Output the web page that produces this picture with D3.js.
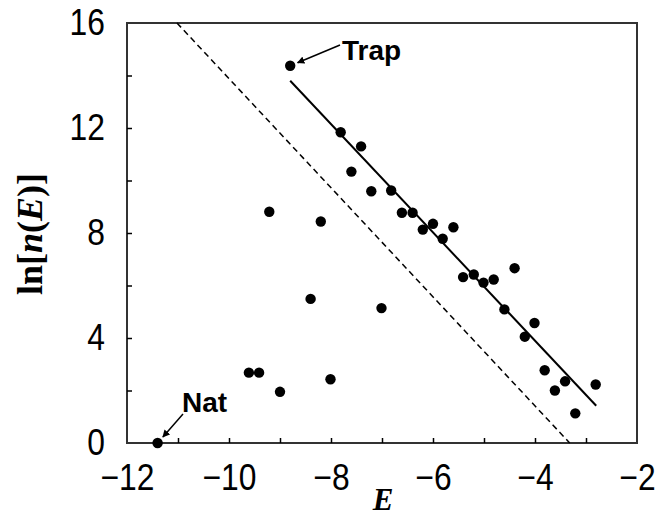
<!DOCTYPE html>
<html>
<head>
<meta charset="utf-8">
<script src="https://cdn.jsdelivr.net/npm/d3@7"></script>
<style>
  body { margin: 0; background: #fff; }
  svg { display: block; }
</style>
</head>
<body>
<svg id="drawing_region"></svg>
<script>
var width = 670;
var height = 516;
var margin = {top: 23, right: 33, bottom: 73, left: 127};

// states: energy E and ln of the number of states
const energies = [-8.80, -7.81, -7.41, -7.60, -7.21, -6.82, -6.61, -6.40, -6.20, -6.00,
                  -5.60, -5.81, -5.41, -5.20, -5.01, -4.81, -4.40, -4.60, -4.01, -4.20,
                  -3.81, -3.41, -3.61, -3.21, -2.81,
                  -9.21, -8.20, -8.40, -7.01, -9.61, -9.41, -9.00, -8.01, -11.40];
const lnN = [14.37, 11.84, 11.30, 10.34, 9.59, 9.62, 8.77, 8.77, 8.13, 8.35,
             8.22, 7.78, 6.32, 6.42, 6.11, 6.23, 6.66, 5.09, 4.57, 4.05,
             2.77, 2.35, 2.00, 1.13, 2.23,
             8.81, 8.44, 5.49, 5.14, 2.68, 2.68, 1.95, 2.43, 0.00];

// fitted line and reference (dashed) line, as end points
const fitLine = [{x: -8.80, y: 13.80}, {x: -2.80, y: 1.42}];
const refLine = [{x: -11.02, y: 16}, {x: -3.32, y: 0}];

const xTicks = [-12, -10, -8, -6, -4, -2];
const yTicks = [0, 4, 8, 12, 16];

const labels = [
  {text: 'Trap', x: -8.80, y: 14.37, tx: 342, ty: 60, ax: 340, ay: 45},
  {text: 'Nat', x: -11.40, y: 0.00, tx: 182, ty: 412, ax: 183, ay: 414}
];

const data = energies.map((e, i) => ({x: e, y: lnN[i]}));

var svg = d3.select('#drawing_region')
      .attr('width', width)
      .attr('height', height);

var chart = svg.append('g')
      .attr('transform', `translate(${margin.left}, ${margin.top})`);

const innerWidth = width - margin.left - margin.right;
const innerHeight = height - margin.top - margin.bottom;

const xscale = d3.scaleLinear().domain([-12, -2]).range([0, innerWidth]);
const yscale = d3.scaleLinear().domain([0, 16]).range([innerHeight, 0]);

const line = d3.line()
      .x(d => xscale(d.x))
      .y(d => yscale(d.y));

const sansFont = '"Liberation Sans", Arial, sans-serif';

// frame
chart.append('rect')
      .attr('width', innerWidth)
      .attr('height', innerHeight)
      .attr('fill', 'none')
      .attr('stroke', '#333')
      .attr('stroke-width', 2);

// minor inward ticks (no labels)
chart.append('g')
      .attr('transform', `translate(0, ${innerHeight})`)
      .call(d3.axisBottom(xscale).tickValues(d3.range(-11, -2, 1)).tickSize(-5))
      .call(g => g.select('.domain').remove())
      .call(g => g.selectAll('text').remove())
      .selectAll('line').attr('stroke-width', 1.5);

chart.append('g')
      .call(d3.axisLeft(yscale).tickValues(d3.range(2, 16, 2)).tickSize(-5))
      .call(g => g.select('.domain').remove())
      .call(g => g.selectAll('text').remove())
      .selectAll('line').attr('stroke-width', 1.5);

// tick labels (a bit condensed, like the original)
const xAxis = d3.axisBottom(xscale).tickValues(xTicks).tickSize(0).tickPadding(21);
const yAxis = d3.axisLeft(yscale).tickValues(yTicks).tickSize(0).tickPadding(22);

chart.append('g')
      .attr('transform', `translate(0, ${innerHeight})`)
      .call(xAxis)
      .call(g => g.select('.domain').remove())
      .selectAll('text')
      .attr('font-family', sansFont)
      .attr('font-size', 37)
      .attr('transform', 'scale(0.86, 1)')
      .attr('fill', '#000');

chart.append('g')
      .call(yAxis)
      .call(g => g.select('.domain').remove())
      .selectAll('text')
      .attr('font-family', sansFont)
      .attr('font-size', 37)
      .attr('transform', 'translate(-22, 0) scale(0.86, 1) translate(22, 0)')
      .attr('fill', '#000');

// lines
chart.append('path')
      .attr('d', line(refLine))
      .attr('stroke', 'black')
      .attr('stroke-width', 1.5)
      .attr('stroke-dasharray', '6,4')
      .attr('fill', 'none');

chart.append('path')
      .attr('d', line(fitLine))
      .attr('stroke', 'black')
      .attr('stroke-width', 2)
      .attr('fill', 'none');

// points
chart.selectAll('circle')
      .data(data)
      .enter()
      .append('circle')
      .attr('cx', d => xscale(d.x))
      .attr('cy', d => yscale(d.y))
      .attr('r', 5.2)
      .attr('fill', 'black');

// annotations with arrows
svg.append('defs').append('marker')
      .attr('id', 'arrow')
      .attr('viewBox', '0 0 10 10')
      .attr('refX', 9).attr('refY', 5)
      .attr('markerWidth', 5).attr('markerHeight', 5)
      .attr('orient', 'auto')
      .append('path')
      .attr('d', 'M0,0 L10,5 L0,10 z')
      .attr('fill', 'black');

labels.forEach(l => {
      const px = margin.left + xscale(l.x);
      const py = margin.top + yscale(l.y);
      const dx = l.ax - px, dy = l.ay - py;
      const len = Math.sqrt(dx * dx + dy * dy);
      svg.append('line')
            .attr('x1', l.ax).attr('y1', l.ay)
            .attr('x2', px + dx / len * 8).attr('y2', py + dy / len * 8)
            .attr('stroke', 'black')
            .attr('stroke-width', 1.5)
            .attr('marker-end', 'url(#arrow)');
      svg.append('text')
            .attr('x', l.tx).attr('y', l.ty)
            .attr('font-family', sansFont)
            .attr('font-weight', 'bold')
            .attr('font-size', 28)
            .text(l.text);
});

// axis titles
svg.append('text')
      .attr('x', 383)
      .attr('y', 510)
      .attr('text-anchor', 'middle')
      .attr('font-family', '"Liberation Serif", "Times New Roman", serif')
      .attr('font-weight', 'bold')
      .attr('font-style', 'italic')
      .attr('font-size', 31)
      .text('E');

const ylab = svg.append('text')
      .attr('transform', 'translate(42, 234) rotate(-90)')
      .attr('text-anchor', 'middle')
      .attr('font-family', '"Liberation Serif", "Times New Roman", serif')
      .attr('font-weight', 'bold')
      .attr('font-size', 36);
ylab.append('tspan').text('ln[');
ylab.append('tspan').attr('font-style', 'italic').text('n');
ylab.append('tspan').text('(');
ylab.append('tspan').attr('font-style', 'italic').text('E');
ylab.append('tspan').text(')]');
</script>
</body>
</html>
